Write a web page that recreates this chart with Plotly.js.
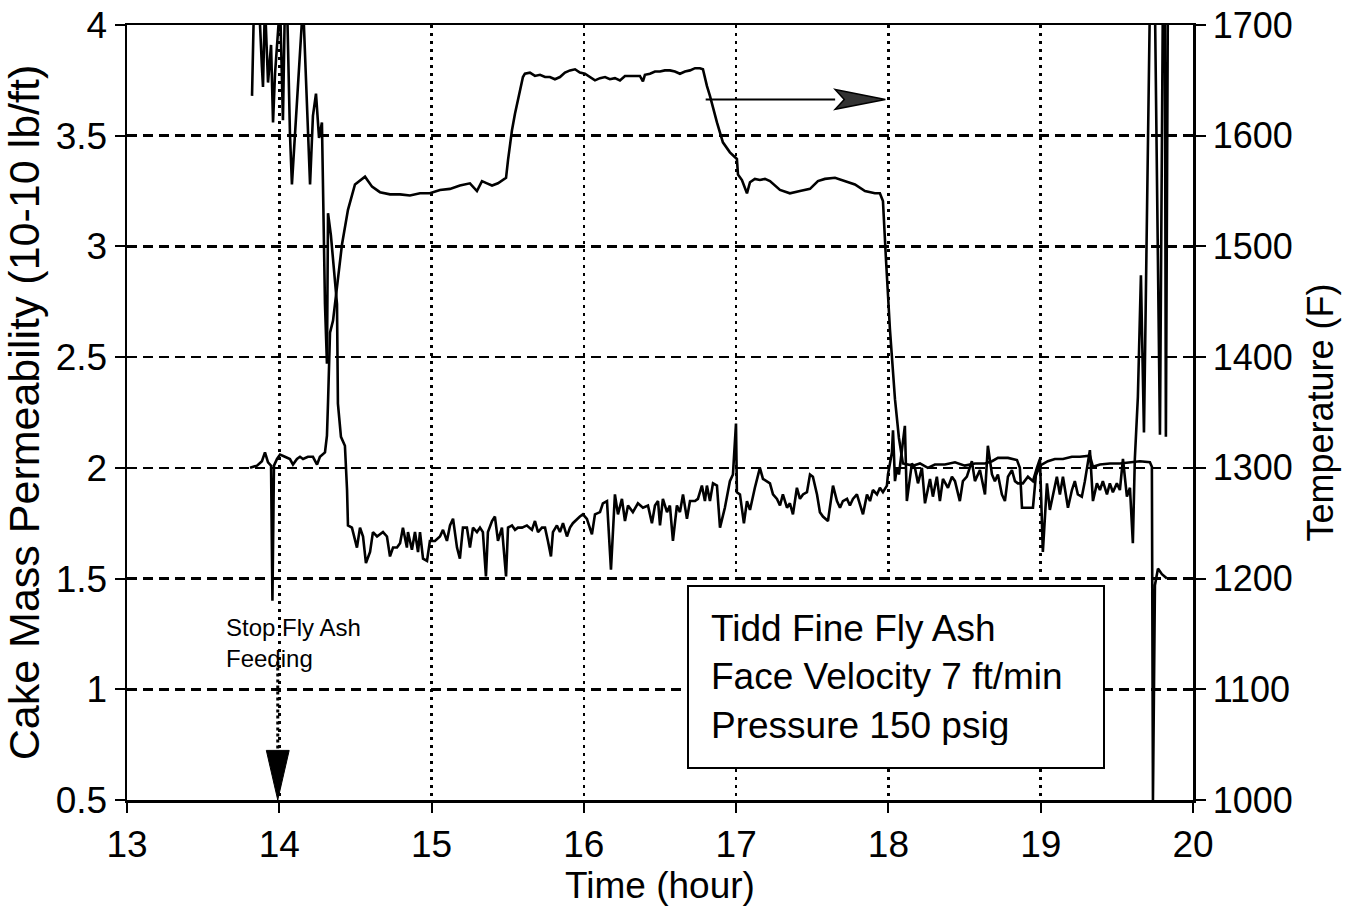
<!DOCTYPE html>
<html><head><meta charset="utf-8">
<script src="https://cdn.plot.ly/plotly-3.0.1.min.js"></script>
<style>html,body{margin:0;padding:0;background:#fff}#chart{width:1368px;height:911px}</style>
</head><body><div id="chart"></div><script>
// Cake mass permeability (left axis)
const permHours = [13.821,13.834,13.847,13.867,13.886,13.893,13.906,13.926,13.946,13.959,13.972,13.991,14.005,14.024,14.037,14.051,14.070,14.083,14.116,14.156,14.202,14.221,14.241,14.261,14.280,14.300,14.313,14.320,14.339,14.359,14.379,14.385,14.405,14.431,14.445,14.451,
14.477,14.510,14.530,14.550,14.569,14.596,14.615,14.642,14.661,14.681,14.707,14.727,14.747,14.773,14.793,14.812,14.838,14.845,14.871,14.891,14.911,14.924,14.944,14.970,14.989,15.022,15.055,15.075,15.101,15.121,15.141,15.167,15.186,15.206,15.232,15.252,15.272,15.298,15.318,15.337,15.357,15.370,15.397,15.416,15.436,15.462,15.489,15.502,15.528,15.548,15.567,15.594,15.626,15.659,15.679,15.699,15.725,15.745,15.764,15.784,15.797,15.823,15.843,15.863,15.889,15.909,15.928,15.955,15.974,15.994,16.020,16.053,16.073,16.106,
16.125,16.152,16.178,16.204,16.224,16.250,16.270,16.290,16.322,16.355,16.388,16.421,16.447,16.467,16.487,16.500,16.519,16.546,16.565,16.585,16.611,16.631,16.651,16.677,16.697,16.730,16.749,16.775,16.795,16.808,16.828,16.848,16.874,16.894,16.926,16.959,16.979,16.999,17.005,17.025,17.051,17.071,17.091,17.123,17.156,17.176,17.202,17.222,17.242,17.268,17.288,17.307,17.334,17.353,17.373,17.399,17.419,17.439,17.465,17.485,17.504,17.531,17.550,17.570,17.603,17.636,17.662,17.682,17.701,17.728,17.747,17.767,17.793,17.813,17.833,17.859,17.879,17.898,17.925,17.944,17.964,17.990,17.997,18.023,18.030,18.043,18.056,18.069,18.108,
18.121,18.154,18.174,18.194,18.220,18.240,18.273,18.292,18.318,18.338,18.358,18.391,18.417,18.437,18.469,18.489,18.515,18.548,18.568,18.601,18.634,18.653,18.680,18.699,18.719,18.745,18.765,18.785,18.811,18.831,18.850,18.883,18.916,18.949,18.975,18.995,19.014,19.041,19.060,19.080,19.106,19.126,19.146,19.179,19.205,19.224,19.244,19.270,19.290,19.323,19.343,19.369,19.389,19.408,19.435,19.454,19.474,19.500,19.520,19.540,19.566,19.586,19.605,19.618,19.638,19.658,19.678,19.717,19.750,19.783,19.802,19.815,19.822,19.835];
const permValues = [3.68,4.1,4.1,4.1,3.81,3.72,4.1,3.74,3.91,3.56,3.78,3.96,4.1,3.57,4.1,4.1,3.51,3.28,3.68,4.1,3.28,3.59,3.69,3.49,3.56,2.74,2.47,3.15,3.05,2.89,2.74,2.29,2.14,2.10,1.90,1.74,
1.73,1.64,1.73,1.69,1.57,1.62,1.71,1.69,1.70,1.71,1.69,1.60,1.64,1.64,1.66,1.73,1.64,1.71,1.63,1.71,1.62,1.71,1.59,1.58,1.67,1.67,1.69,1.72,1.67,1.74,1.77,1.64,1.59,1.73,1.73,1.64,1.73,1.71,1.73,1.71,1.51,1.71,1.76,1.78,1.67,1.73,1.51,1.73,1.74,1.72,1.73,1.73,1.74,1.72,1.76,1.71,1.73,1.73,1.67,1.60,1.71,1.74,1.71,1.75,1.69,1.73,1.75,1.77,1.78,1.79,1.77,1.70,1.79,1.80,
1.84,1.85,1.54,1.88,1.79,1.86,1.76,1.83,1.80,1.84,1.82,1.83,1.75,1.83,1.85,1.74,1.86,1.80,1.83,1.67,1.83,1.80,1.88,1.77,1.85,1.85,1.86,1.92,1.85,1.92,1.85,1.93,1.92,1.73,1.82,1.94,1.97,2.20,1.89,1.88,1.75,1.85,1.81,1.91,2.00,1.95,1.94,1.93,1.88,1.86,1.83,1.88,1.82,1.84,1.79,1.91,1.86,1.88,1.89,1.97,1.96,1.88,1.80,1.78,1.76,1.92,1.85,1.82,1.85,1.86,1.83,1.86,1.88,1.83,1.79,1.88,1.85,1.90,1.88,1.91,1.89,1.92,1.97,2.07,2.17,1.94,2.00,1.97,2.19,
1.85,2.02,2.00,1.93,2.00,1.84,1.95,1.87,1.96,1.85,1.95,1.91,1.96,1.94,1.85,1.94,1.96,2.03,1.94,1.99,1.88,2.10,1.97,1.94,1.97,1.88,1.85,1.96,1.99,1.94,1.93,1.93,1.96,1.94,2.00,2.04,1.62,1.93,1.81,1.88,1.96,1.88,1.96,1.82,1.90,1.94,1.88,1.87,1.94,2.08,1.85,1.93,1.90,1.94,1.88,1.93,1.89,1.93,1.90,2.04,1.87,1.91,1.66,2.04,2.32,2.87,2.16,4.1,4.1,2.15,4.1,4.1,2.14,4.1];

// Temperature (right axis)
const tempHours = [13.808,13.854,13.886,13.906,13.926,13.946,13.955,13.965,13.985,14.005,14.037,14.070,14.090,14.116,14.136,14.156,14.188,14.221,14.248,14.267,14.300,14.313,14.320,14.333,14.353,14.379,14.412,14.451,14.497,14.563,14.609,14.661,14.727,14.793,14.858,14.924,14.989,15.055,15.121,15.186,15.252,15.298,15.331,15.364,15.397,15.436,15.469,15.489,15.502,15.528,15.548,15.580,15.600,15.613,15.646,15.679,15.712,15.745,15.777,15.810,15.843,15.876,15.909,15.942,15.974,16.007,16.040,16.073,16.106,16.139,16.171,16.204,16.237,16.270,16.303,16.336,16.368,16.388,16.401,16.434,16.467,16.500,16.532,16.565,16.598,16.631,16.664,16.697,16.730,16.762,16.782,16.808,16.828,16.874,16.913,16.959,17.005,17.012,17.038,17.071,17.091,17.123,17.156,17.189,17.222,17.288,17.353,17.419,17.485,17.537,17.583,17.649,17.714,17.780,17.846,17.911,17.944,17.964,17.984,18.010,18.043,18.069,18.095,18.128,18.161,18.207,18.259,18.305,18.371,18.437,18.502,18.568,18.634,18.680,18.719,18.785,18.844,18.863,18.877,18.949,18.968,18.995,19.047,19.093,19.146,19.205,19.257,19.323,19.343,19.389,19.454,19.520,19.586,19.651,19.717,19.730,19.737,19.750,19.770,19.796,19.829];
const tempValues = [1300,1302,1306,1314,1305,1302,1180,1302,1308,1312,
1310,1308,1303,1308,1310,1308,1310,1310,1303,1310,
1314,1329,1359,1422,1433,1462,1502,1533,1556,1563,
1554,1549,1547,1547,1546,1548,1548,1551,1552,1555,
1557,1550,1559,1557,1555,1557,1560,1562,1578,1605,
1620,1640,1653,1656,1657,1654,1655,1653,1653,1651,
1653,1657,1659,1660,1657,1656,1653,1650,1652,1653,
1651,1652,1650,1654,1654,1654,1654,1649,1655,1656,
1658,1658,1659,1659,1658,1656,1658,1659,1661,1661,
1660,1645,1636,1612,1594,1585,1579,1565,1560,1548,
1558,1561,1560,1561,1559,1551,1548,1550,1552,1559,
1561,1562,1559,1556,1550,1548,1548,1541,1488,1425,
1362,1327,1304,1303,1302,1304,1300,1303,1303,1305,
1302,1304,1304,1306,1309,1309,1307,1300,1264,1264,
1293,1302,1306,1308,1308,1310,1310,1311,1301,1303,
1304,1304,1305,1306,1305,1301,1000,1194,1209,1204,
1200];

const xTickVals = [13,14,15,16,17,18,19,20];
const yTickVals = [0.5,1,1.5,2,2.5,3,3.5,4];
const y2TickVals = [1000,1100,1200,1300,1400,1500,1600,1700];

// annotation anchors (data units)
const boxLines = ['Tidd Fine Fly Ash','Face Velocity 7 ft/min','Pressure 150 psig'];
const boxAnchor = {x:16.677, y:1.471};
const stopText = ['Stop Fly Ash','Feeding'];
const stopAnchor = {x:13.64, y:1.35};
const stopArrow = {x:13.99, yTop:1.126, yBase:0.724, yTip:0.5, half:0.075};
const tempArrow = {x0:16.80, xBase:17.65, xTip:17.98, y:3.664, half:0.045};

const FONT = '"Liberation Sans", Arial, Helvetica, sans-serif';

const traces = [
  {x: permHours, y: permValues, yaxis:'y', mode:'lines', line:{color:'black', width:2.6}, hoverinfo:'skip'},
  {x: tempHours, y: tempValues, yaxis:'y2', mode:'lines', line:{color:'black', width:2.6}, hoverinfo:'skip'}
];

const layout = {
  width:1368, height:911,
  margin:{l:127, r:175, t:25, b:111},
  paper_bgcolor:'white', plot_bgcolor:'white',
  showlegend:false,
  font:{family:FONT, color:'black', size:36},
  xaxis:{
    range:[13,20], tickvals:xTickVals, ticktext:xTickVals.map(String),
    showgrid:true, gridcolor:'black', gridwidth:2.5, griddash:'3px,5px',
    showline:true, linecolor:'black', linewidth:2.5, mirror:true,
    ticks:'outside', ticklen:10, tickwidth:2, tickcolor:'black',
    zeroline:false, tickfont:{size:37},
    title:{text:'Time (hour)', font:{size:37}, standoff:4}
  },
  yaxis:{
    range:[0.5,4], tickvals:yTickVals, ticktext:yTickVals.map(String),
    showgrid:true, gridcolor:'black', gridwidth:2.5, griddash:'10px,6px',
    showline:true, linecolor:'black', linewidth:2.5,
    ticks:'outside', ticklen:10, tickwidth:2, tickcolor:'black',
    zeroline:false, tickfont:{size:37}, ticklabeloverflow:'allow',
    title:{text:'Cake Mass Permeability (10-10 lb/ft)', font:{size:43}, standoff:6}
  },
  yaxis2:{
    overlaying:'y', side:'right', range:[1000,1700], tickvals:y2TickVals, ticktext:y2TickVals.map(String),
    showgrid:false, showline:true, linecolor:'black', linewidth:2.5,
    ticks:'outside', ticklen:10, tickwidth:2, tickcolor:'black',
    zeroline:false, tickfont:{size:36}, ticklabeloverflow:'allow',
    title:{text:'Temperature (F)', font:{size:36}, standoff:16}
  },
  shapes:[
    {type:'line', xref:'x', yref:'y', x0:stopArrow.x, x1:stopArrow.x, y0:stopArrow.yTop, y1:stopArrow.yBase,
     line:{color:'black', width:3, dash:'dot'}},
    {type:'path', xref:'x', yref:'y',
     path:`M ${stopArrow.x-stopArrow.half},${stopArrow.yBase} L ${stopArrow.x+stopArrow.half},${stopArrow.yBase} L ${stopArrow.x},${stopArrow.yTip} Z`,
     fillcolor:'black', line:{color:'black', width:1}},
    {type:'line', xref:'x', yref:'y', x0:tempArrow.x0, x1:tempArrow.xBase, y0:tempArrow.y, y1:tempArrow.y,
     line:{color:'black', width:2}},
    {type:'path', xref:'x', yref:'y',
     path:`M ${tempArrow.xBase},${tempArrow.y+tempArrow.half} L ${tempArrow.xTip},${tempArrow.y} L ${tempArrow.xBase},${tempArrow.y-tempArrow.half} L ${tempArrow.xBase+0.06},${tempArrow.y} Z`,
     fillcolor:'#333', line:{color:'black', width:1.5}}
  ],
  annotations:[
    {xref:'x', yref:'y', x:boxAnchor.x, y:boxAnchor.y, xanchor:'left', yanchor:'top',
     text:boxLines.join('<br>'), align:'left', showarrow:false,
     font:{size:37, family:FONT, color:'black'},
     bordercolor:'black', borderwidth:2, borderpad:22, bgcolor:'white', width:370, height:136},
    {xref:'x', yref:'y', x:stopAnchor.x, y:stopAnchor.y, xanchor:'left', yanchor:'top',
     text:stopText.join('<br>'), align:'left', showarrow:false,
     font:{size:24, family:FONT, color:'black'}}
  ]
};

Plotly.newPlot('chart', traces, layout, {staticPlot:true, displayModeBar:false});
</script></body></html>
